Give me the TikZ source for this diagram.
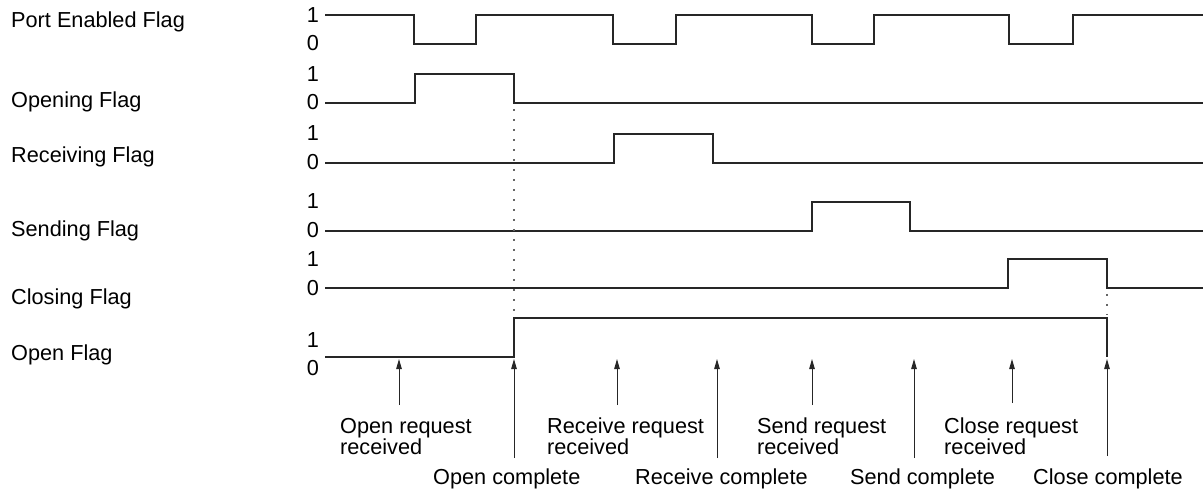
\documentclass[tikz,border=0pt]{standalone}
\usepackage{fontspec}
\setmainfont{Liberation Sans}
\usetikzlibrary{arrows.meta}
\begin{document}
\begin{tikzpicture}[x=1pt,y=-1pt,
  txt/.style={inner sep=0pt,anchor=base west,font=\fontsize{21.7}{21}\selectfont},
  lvl/.style={inner sep=0pt,anchor=base,font=\fontsize{21.7}{21}\selectfont},
  wave/.style={line width=1.2pt,draw=black!85,line join=miter},
  dotline/.style={line width=1.4pt,draw=black!60,dash pattern=on 2pt off 8pt},
  evt/.style={line width=1pt,draw=black!85,-{Triangle[length=10pt,width=5.5pt]}}]
\useasboundingbox (0,0) rectangle (1203,489);

% flag names
\node[txt] (nPort) at (11,28) {Port Enabled Flag};
\node[txt] (nOpening) at (11,108) {Opening Flag};
\node[txt] (nRecv) at (11,163) {Receiving Flag};
\node[txt] (nSend) at (11,237) {Sending Flag};
\node[txt] (nClosing) at (11,305) {Closing Flag};
\node[txt] (nOpen) at (11,360) {Open Flag};

% level digits
\node[lvl] (p1) at (313,23) {1};  \node[lvl] (p0) at (313,51) {0};
\node[lvl] (o1) at (313,82) {1};  \node[lvl] (o0) at (313,110) {0};
\node[lvl] (r1) at (313,141) {1}; \node[lvl] (r0) at (313,170) {0};
\node[lvl] (s1) at (313,209) {1}; \node[lvl] (s0) at (313,238) {0};
\node[lvl] (c1) at (313,267) {1}; \node[lvl] (c0) at (313,295) {0};
\node[lvl] (f1) at (313,347) {1}; \node[lvl] (f0) at (313,375) {0};

% waveforms
\draw[wave] (325,15) -- (414,15) -- (414,44) -- (476,44) -- (476,15) -- (613,15) -- (613,44) -- (676,44) -- (676,15)
  -- (812,15) -- (812,44) -- (874,44) -- (874,15) -- (1009,15) -- (1009,44) -- (1073,44) -- (1073,15) -- (1203,15);
\coordinate (openingFall) at (514,103);
\draw[wave] (325,103) -- (415,103) -- (415,74) -- (514,74) -- (openingFall) -- (1203,103);
\draw[wave] (325,163) -- (614,163) -- (614,134) -- (713,134) -- (713,163) -- (1203,163);
\draw[wave] (325,231) -- (812,231) -- (812,202) -- (910,202) -- (910,231) -- (1203,231);
\coordinate (closingFall) at (1107,288);
\draw[wave] (325,288) -- (1008,288) -- (1008,259) -- (1107,259) -- (closingFall) -- (1203,288);
\coordinate (openRise) at (514,318);
\coordinate (openFall) at (1107,318);
\draw[wave] (325,357) -- (514,357) -- (openRise) -- (openFall) -- (1107,357);

% dotted links
\draw[dotline] ([yshift=-6pt]openingFall) -- ([yshift=3pt]openRise);
\draw[dotline] ([yshift=-6pt]closingFall) -- ([yshift=3pt]openFall);

% event arrows
\coordinate (t1) at (399,405);  \coordinate (h1) at (399,359);
\coordinate (t2) at (514,458);  \coordinate (h2) at (514,359);
\coordinate (t3) at (617,405);  \coordinate (h3) at (617,359);
\coordinate (t4) at (717,458);  \coordinate (h4) at (717,359);
\coordinate (t5) at (812,405);  \coordinate (h5) at (812,359);
\coordinate (t6) at (914,458);  \coordinate (h6) at (914,359);
\coordinate (t7) at (1012,403); \coordinate (h7) at (1012,359);
\coordinate (t8) at (1107,456); \coordinate (h8) at (1107,359);
\foreach \i in {1,...,8} \draw[evt] (t\i) -- (h\i);

% event labels (base anchor = last line)
\node[txt,align=left] (e1) at (340,454) {Open request\\received};
\node[txt,align=left] (e3) at (547,454) {Receive request\\received};
\node[txt,align=left] (e5) at (757,454) {Send request\\received};
\node[txt,align=left] (e7) at (944,454) {Close request\\received};
\node[txt] (e2) at (433,484) {Open complete};
\node[txt] (e4) at (635,484) {Receive complete};
\node[txt] (e6) at (850,484) {Send complete};
\node[txt] (e8) at (1033,484) {Close complete};
\end{tikzpicture}
\end{document}
